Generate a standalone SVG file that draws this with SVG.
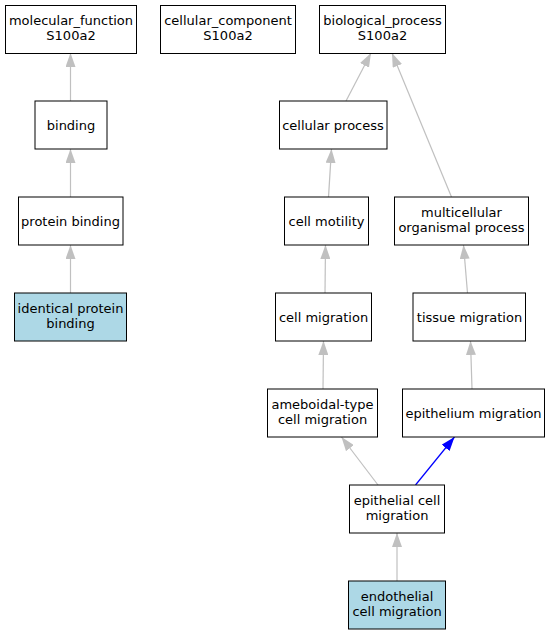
<svg xmlns="http://www.w3.org/2000/svg" width="549" height="635" viewBox="0 0 549 635">
<defs>
<style>
.n rect{fill:#fff;stroke:#000;stroke-width:1}
.n.hl rect{fill:#add8e6}
.n text{font-family:"DejaVu Sans",sans-serif;font-size:13px;fill:#000;text-anchor:middle}
.e{fill:none;stroke:#c0c0c0;stroke-width:1.2}
.e.b{stroke:#0000ff}
</style>
<marker id="ag" markerUnits="userSpaceOnUse" markerWidth="14" markerHeight="10" refX="14" refY="5" orient="auto"><path d="M0,0 L14,5 L0,10 z" fill="#c0c0c0"/></marker>
<marker id="ab" markerUnits="userSpaceOnUse" markerWidth="14" markerHeight="10" refX="14" refY="5" orient="auto"><path d="M0,0 L14,5 L0,10 z" fill="#0000ff"/></marker>
</defs>
<rect width="549" height="635" fill="#fff"/>
<g id="edges">
<path class="e" d="M70.5,101 L70.5,53" marker-end="url(#ag)"/>
<path class="e" d="M70.5,197 L70.5,149" marker-end="url(#ag)"/>
<path class="e" d="M70.5,293 L70.5,245" marker-end="url(#ag)"/>
<path class="e" d="M346,101 L371,53" marker-end="url(#ag)"/>
<path class="e" d="M451.5,197 L392,53" marker-end="url(#ag)"/>
<path class="e" d="M328.5,197 L331.5,149" marker-end="url(#ag)"/>
<path class="e" d="M325,293 L325.5,245" marker-end="url(#ag)"/>
<path class="e" d="M467.5,293 L463.5,245" marker-end="url(#ag)"/>
<path class="e" d="M323,389 L323.5,341" marker-end="url(#ag)"/>
<path class="e" d="M472,389 L470.5,341" marker-end="url(#ag)"/>
<path class="e" d="M378,485 L341.5,437" marker-end="url(#ag)"/>
<path class="e b" d="M415.5,485 L454.5,437" marker-end="url(#ab)"/>
<path class="e" d="M397,581 L397,533" marker-end="url(#ag)"/>
</g>
<g id="molecular_function" class="n"><rect x="5.5" y="5.5" width="131" height="48"/><text x="71" y="25">molecular_function</text><text x="71" y="40">S100a2</text></g>
<g id="cellular_component" class="n"><rect x="160.5" y="5.5" width="135" height="48"/><text x="228" y="25">cellular_component</text><text x="228" y="40">S100a2</text></g>
<g id="biological_process" class="n"><rect x="319.5" y="5.5" width="126" height="48"/><text x="382.5" y="25">biological_process</text><text x="382.5" y="40">S100a2</text></g>
<g id="binding" class="n"><rect x="35" y="101" width="72" height="48"/><text x="71" y="129.5">binding</text></g>
<g id="cellular_process" class="n"><rect x="279.5" y="101" width="107.5" height="48"/><text x="333" y="129.5">cellular process</text></g>
<g id="protein_binding" class="n"><rect x="18.5" y="197" width="104.5" height="48"/><text x="70.5" y="225.5">protein binding</text></g>
<g id="identical_protein_binding" class="n hl"><rect x="14.5" y="293" width="112" height="48"/><text x="70.5" y="313">identical protein</text><text x="70.5" y="328">binding</text></g>
<g id="cell_motility" class="n"><rect x="284.5" y="197" width="84" height="48"/><text x="326.5" y="225.5">cell motility</text></g>
<g id="multicellular_organismal_process" class="n"><rect x="394.5" y="197" width="134" height="48"/><text x="461.5" y="217">multicellular</text><text x="461.5" y="232">organismal process</text></g>
<g id="cell_migration" class="n"><rect x="275.5" y="293" width="96" height="48"/><text x="323.5" y="321.5">cell migration</text></g>
<g id="tissue_migration" class="n"><rect x="413" y="293" width="112.5" height="48"/><text x="469.5" y="321.5">tissue migration</text></g>
<g id="ameboidal_type_cell_migration" class="n"><rect x="267.5" y="389" width="110" height="48"/><text x="322.5" y="409">ameboidal-type</text><text x="322.5" y="424">cell migration</text></g>
<g id="epithelium_migration" class="n"><rect x="402.5" y="389" width="142" height="48"/><text x="473.5" y="417.5">epithelium migration</text></g>
<g id="epithelial_cell_migration" class="n"><rect x="349.5" y="485" width="95" height="48"/><text x="397" y="505">epithelial cell</text><text x="397" y="520">migration</text></g>
<g id="endothelial_cell_migration" class="n hl"><rect x="348.5" y="581" width="97" height="48"/><text x="397" y="601">endothelial</text><text x="397" y="616">cell migration</text></g>
</svg>
